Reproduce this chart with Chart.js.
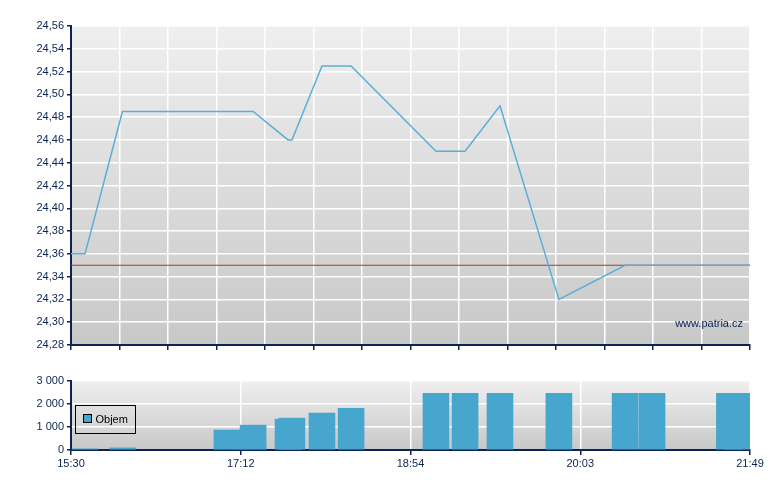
<!DOCTYPE html>
<html>
<head>
<meta charset="utf-8">
<script src="https://cdn.jsdelivr.net/npm/chart.js@4"></script>
<style>
  html, body { margin: 0; padding: 0; background: #ffffff; width: 780px; height: 490px; overflow: hidden; }
  #wrapTop { position: absolute; left: 0; top: 0; width: 780px; height: 360px; }
  #wrapBot { position: absolute; left: 0; top: 360px; width: 780px; height: 130px; }
</style>
</head>
<body>
<div id="wrapTop"><canvas id="priceChart" width="780" height="360"></canvas></div>
<div id="wrapBot"><canvas id="volChart" width="780" height="130"></canvas></div>
<script>
// ---- data (session position 0..28) ----
const positions = [0.58, 2.12, 6.43, 7.51, 8.95, 9.11, 10.35, 11.55, 15.05, 16.25, 17.69, 20.12, 22.85, 23.96, 27.15, 27.47];
const prices    = [24.36, 24.485, 24.485, 24.485, 24.46, 24.46, 24.525, 24.525, 24.45, 24.45, 24.49, 24.32, 24.35, 24.35, 24.35, 24.35];
const volumes   = [50, 90, 870, 1080, 1340, 1385, 1600, 1815, 2460, 2460, 2460, 2460, 2460, 2460, 2460, 2460];
const prevClose = 24.35;
const sessionStart = 0;
const sessionEnd = 28;
const timeLabels = ['15:30', '17:12', '18:54', '20:03', '21:49'];
const priceMin = 24.28, priceMax = 24.56, priceStep = 0.02;
const volMin = 0, volMax = 3000, volStep = 1000;
const legendLabel = 'Objem';
const watermark = 'www.patria.cz';

// ---- styles ----
const NAVY = '#0b2452';
const LINE_BLUE = '#5aafd8';
const BAR_BLUE = '#46a6ce';
const RED = '#b8332a';
const FONT = { family: 'Liberation Sans, Arial, sans-serif', size: 11 };

const bgPlugin = {
  id: 'bgGradient',
  beforeDraw(chart) {
    const { ctx, chartArea: a } = chart;
    const g = ctx.createLinearGradient(0, a.top, 0, a.bottom);
    g.addColorStop(0, '#efefef');
    g.addColorStop(1, '#c8c8c8');
    ctx.save();
    ctx.fillStyle = g;
    ctx.fillRect(a.left, a.top, a.right - a.left, a.bottom - a.top);
    ctx.restore();
  }
};

const watermarkPlugin = {
  id: 'watermark',
  afterDatasetsDraw(chart) {
    const { ctx, chartArea: a } = chart;
    ctx.save();
    ctx.font = '11px ' + FONT.family;
    ctx.fillStyle = NAVY;
    ctx.textAlign = 'right';
    ctx.textBaseline = 'alphabetic';
    ctx.fillText(watermark, a.right - 7, a.bottom - 18);
    ctx.restore();
  }
};

const legendPlugin = {
  id: 'innerLegend',
  afterDraw(chart) {
    const { ctx, chartArea: a } = chart;
    const x = a.left + 4.5, y = a.top + 24.5, w = 60, h = 28;
    ctx.save();
    ctx.strokeStyle = '#000000';
    ctx.lineWidth = 1;
    ctx.strokeRect(x, y, w, h);
    ctx.fillStyle = BAR_BLUE;
    ctx.fillRect(x + 8, y + 9, 8, 8);
    ctx.strokeRect(x + 8, y + 9, 8, 8);
    ctx.fillStyle = '#000000';
    ctx.font = '11px ' + FONT.family;
    ctx.textBaseline = 'middle';
    ctx.fillText(legendLabel, x + 20, y + 14.5);
    ctx.restore();
  }
};

Chart.defaults.font = FONT;
Chart.defaults.color = NAVY;

const extended = [{ x: sessionStart, y: prices[0] }]
  .concat(positions.map((p, i) => ({ x: p, y: prices[i] })))
  .concat([{ x: sessionEnd, y: prices[prices.length - 1] }]);

new Chart(document.getElementById('priceChart'), {
  type: 'line',
  data: {
    datasets: [
      {
        data: extended,
        borderColor: LINE_BLUE,
        borderWidth: 1.5,
        pointRadius: 0,
        tension: 0,
        order: 1
      },
      {
        data: [{ x: sessionStart, y: prevClose }, { x: sessionEnd, y: prevClose }],
        borderColor: RED,
        borderWidth: 1,
        pointRadius: 0,
        order: 2
      }
    ]
  },
  options: {
    responsive: false,
    animation: false,
    layout: { padding: { top: 26, right: 30, left: 0, bottom: 0 } },
    plugins: { legend: { display: false }, tooltip: { enabled: false } },
    scales: {
      x: {
        type: 'linear',
        min: sessionStart,
        max: sessionEnd,
        ticks: { display: false, stepSize: 2 },
        grid: { color: '#ffffff', lineWidth: 1.5, tickColor: NAVY, tickLength: 5, tickWidth: 1.5 },
        border: { color: NAVY, width: 2 },
        afterFit(s) { s.height = 15; }
      },
      y: {
        min: priceMin,
        max: priceMax,
        ticks: {
          stepSize: priceStep,
          padding: 3,
          color: NAVY,
          callback: v => Number(v).toFixed(2).replace('.', ',')
        },
        grid: { color: '#ffffff', lineWidth: 1.5, tickColor: NAVY, tickLength: 4, tickWidth: 1.5 },
        border: { color: NAVY, width: 2 },
        afterFit(s) { s.width = 71; }
      }
    }
  },
  plugins: [bgPlugin, watermarkPlugin]
});

new Chart(document.getElementById('volChart'), {
  type: 'bar',
  data: {
    datasets: [{
      data: positions.map((p, i) => ({ x: p, y: volumes[i] })),
      backgroundColor: BAR_BLUE,
      borderWidth: 0,
      barThickness: 26
    }]
  },
  options: {
    responsive: false,
    animation: false,
    layout: { padding: { top: 21, right: 30, left: 0, bottom: 0 } },
    plugins: { legend: { display: false }, tooltip: { enabled: false } },
    scales: {
      x: {
        type: 'linear',
        min: sessionStart,
        max: sessionEnd,
        offset: false,
        ticks: {
          stepSize: 7,
          padding: 2,
          color: NAVY,
          maxRotation: 0,
          autoSkip: false,
          callback: (v) => timeLabels[Math.round(v / 7)] || ''
        },
        grid: { offset: false, color: '#ffffff', lineWidth: 1.5, tickColor: NAVY, tickLength: 5, tickWidth: 1.5 },
        border: { color: NAVY, width: 2 },
        afterFit(s) { s.height = 40; }
      },
      y: {
        min: volMin,
        max: volMax,
        ticks: {
          stepSize: volStep,
          padding: 3,
          color: NAVY,
          callback: v => String(v).replace(/\B(?=(\d{3})+(?!\d))/g, ' ')
        },
        grid: { color: '#ffffff', lineWidth: 1.5, tickColor: NAVY, tickLength: 4, tickWidth: 1.5 },
        border: { color: NAVY, width: 2 },
        afterFit(s) { s.width = 71; }
      }
    }
  },
  plugins: [bgPlugin, legendPlugin]
});
</script>
</body>
</html>
